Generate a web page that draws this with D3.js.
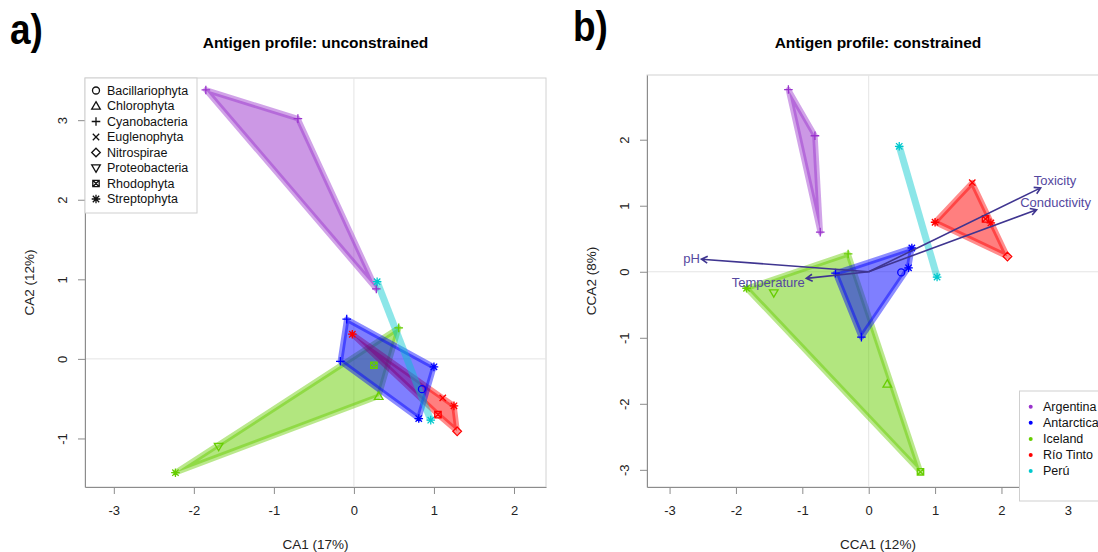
<!DOCTYPE html>
<html>
<head>
<meta charset="utf-8">
<script src="https://cdn.jsdelivr.net/npm/d3@7"></script>
<style>
  body { margin: 0; background: #fff; }
  svg { font-family: "Liberation Sans", Arial, sans-serif; }
</style>
</head>
<body>
<svg id="main-svg" width="1098" height="552"></svg>
<script>
// sites (colour groups) and taxa (symbols)
const sites = ["Argentina", "Antarctica", "Iceland", "Río Tinto", "Perú"];
const siteColors = ["#9932CC", "#0000FF", "#66CD00", "#FF0000", "#00C8CD"];
const hullOrder = ["Iceland", "Río Tinto", "Argentina", "Antarctica", "Perú"];
const taxa = ["Bacillariophyta", "Chlorophyta", "Cyanobacteria", "Euglenophyta",
  "Nitrospirae", "Proteobacteria", "Rhodophyta", "Streptophyta"];

// a) unconstrained CA scores
const caPoints = [
  {site: "Argentina", taxon: "Cyanobacteria", x: -1.85, y: 3.38},
  {site: "Argentina", taxon: "Cyanobacteria", x: -0.70, y: 3.02},
  {site: "Argentina", taxon: "Cyanobacteria", x: 0.28, y: 0.88},
  {site: "Antarctica", taxon: "Cyanobacteria", x: -0.09, y: 0.50},
  {site: "Antarctica", taxon: "Cyanobacteria", x: -0.17, y: -0.03},
  {site: "Antarctica", taxon: "Streptophyta", x: 1.00, y: -0.10},
  {site: "Antarctica", taxon: "Streptophyta", x: 0.81, y: -0.75},
  {site: "Antarctica", taxon: "Bacillariophyta", x: 0.85, y: -0.38},
  {site: "Iceland", taxon: "Cyanobacteria", x: 0.56, y: 0.39},
  {site: "Iceland", taxon: "Rhodophyta", x: 0.25, y: -0.08},
  {site: "Iceland", taxon: "Chlorophyta", x: 0.31, y: -0.47},
  {site: "Iceland", taxon: "Proteobacteria", x: -1.69, y: -1.10},
  {site: "Iceland", taxon: "Streptophyta", x: -2.23, y: -1.43},
  {site: "Río Tinto", taxon: "Streptophyta", x: -0.02, y: 0.31},
  {site: "Río Tinto", taxon: "Euglenophyta", x: 1.11, y: -0.49},
  {site: "Río Tinto", taxon: "Streptophyta", x: 1.25, y: -0.59},
  {site: "Río Tinto", taxon: "Rhodophyta", x: 1.05, y: -0.70},
  {site: "Río Tinto", taxon: "Nitrospirae", x: 1.29, y: -0.91},
  {site: "Perú", taxon: "Streptophyta", x: 0.29, y: 0.97},
  {site: "Perú", taxon: "Streptophyta", x: 0.96, y: -0.77}
];

// b) constrained CCA scores
const ccaPoints = [
  {site: "Argentina", taxon: "Cyanobacteria", x: -1.21, y: 2.76},
  {site: "Argentina", taxon: "Cyanobacteria", x: -0.81, y: 2.06},
  {site: "Argentina", taxon: "Cyanobacteria", x: -0.73, y: 0.60},
  {site: "Antarctica", taxon: "Cyanobacteria", x: -0.50, y: -0.02},
  {site: "Antarctica", taxon: "Cyanobacteria", x: -0.11, y: -0.99},
  {site: "Antarctica", taxon: "Streptophyta", x: 0.65, y: 0.36},
  {site: "Antarctica", taxon: "Streptophyta", x: 0.60, y: 0.06},
  {site: "Antarctica", taxon: "Bacillariophyta", x: 0.49, y: -0.01},
  {site: "Iceland", taxon: "Cyanobacteria", x: -0.31, y: 0.27},
  {site: "Iceland", taxon: "Streptophyta", x: -1.84, y: -0.25},
  {site: "Iceland", taxon: "Proteobacteria", x: -1.43, y: -0.32},
  {site: "Iceland", taxon: "Chlorophyta", x: 0.28, y: -1.70},
  {site: "Iceland", taxon: "Rhodophyta", x: 0.78, y: -3.03},
  {site: "Río Tinto", taxon: "Streptophyta", x: 1.00, y: 0.75},
  {site: "Río Tinto", taxon: "Euglenophyta", x: 1.56, y: 1.35},
  {site: "Río Tinto", taxon: "Rhodophyta", x: 1.76, y: 0.80},
  {site: "Río Tinto", taxon: "Streptophyta", x: 1.84, y: 0.74},
  {site: "Río Tinto", taxon: "Nitrospirae", x: 2.09, y: 0.23},
  {site: "Perú", taxon: "Streptophyta", x: 0.46, y: 1.90},
  {site: "Perú", taxon: "Streptophyta", x: 1.03, y: -0.08}
];

// environmental biplot arrows (CCA)
const envVars = ["pH", "Temperature", "Toxicity", "Conductivity"];
const envX = [-2.52, -0.94, 2.59, 2.53];
const envY = [0.19, -0.10, 1.27, 0.94];

// axis ticks / limits
const caTicksX = [-3, -2, -1, 0, 1, 2];
const caTicksY = [-1, 0, 1, 2, 3];
const ccaTicksX = [-3, -2, -1, 0, 1, 2, 3];
const ccaTicksY = [-3, -2, -1, 0, 1, 2];
const caLimX = [-3.36, 2.40], caLimY = [-1.61, 3.53];
const ccaLimX = [-3.34, 3.62], ccaLimY = [-3.26, 2.98];

let svg = d3.select('#main-svg');
let color = d3.scaleOrdinal().domain(sites).range(siteColors);
let fontFamily = '"Liberation Sans", Arial, sans-serif';

function symbolPath(taxon) {
  let s = 4.3, a = 3.2, r = 3.5;
  switch (taxon) {
    case "Bacillariophyta":
      return `M${-r},0A${r},${r} 0 1 0 ${r},0A${r},${r} 0 1 0 ${-r},0Z`;
    case "Chlorophyta":
      return `M0,${-s}L${s},${s * 0.72}L${-s},${s * 0.72}Z`;
    case "Cyanobacteria":
      return `M${-s},0H${s}M0,${-s}V${s}`;
    case "Euglenophyta":
      return `M${-a},${-a}L${a},${a}M${-a},${a}L${a},${-a}`;
    case "Nitrospirae":
      return `M0,${-s}L${s},0L0,${s}L${-s},0Z`;
    case "Proteobacteria":
      return `M0,${s}L${s},${-s * 0.72}L${-s},${-s * 0.72}Z`;
    case "Rhodophyta":
      return `M${-a},${-a}H${a}V${a}H${-a}Z M${-a},${-a}L${a},${a}M${-a},${a}L${a},${-a}`;
    default:
      return `M${-s},0H${s}M0,${-s}V${s}M${-a},${-a}L${a},${a}M${-a},${a}L${a},${-a}`;
  }
}

function drawPanel(settings) {
  let {left, right, top, bottom, limX, limY, ticksX, ticksY, points, title, tag, tagX, tagY, xLabel, yLabel} = settings;
  let x = d3.scaleLinear().domain(limX).range([left, right]);
  let y = d3.scaleLinear().domain(limY).range([bottom, top]);
  let g = svg.append('g');
  let cx = (left + right) / 2, cy = (top + bottom) / 2;

  let clipId = 'clip-' + tag.replace(')', '');
  g.append('clipPath').attr('id', clipId).append('rect')
    .attr('x', left).attr('y', top).attr('width', right - left).attr('height', bottom - top);

  g.append('text').attr('x', tagX).attr('y', tagY)
    .attr('transform', `translate(${tagX},0) scale(0.86,1) translate(${-tagX},0)`)
    .style('font-size', '43px').style('font-weight', 'bold').text(tag);
  g.append('text').attr('x', cx).attr('y', 48).attr('text-anchor', 'middle')
    .style('font-size', '15.5px').style('font-weight', 'bold').text(title);

  g.append('rect').attr('x', left).attr('y', top).attr('width', right - left).attr('height', bottom - top)
    .attr('fill', 'none').attr('stroke', '#d2d2d2');

  let inner = g.append('g').attr('clip-path', `url(#${clipId})`);
  inner.append('line').attr('x1', x(0)).attr('x2', x(0)).attr('y1', top).attr('y2', bottom)
    .attr('stroke', '#e4e4e4');
  inner.append('line').attr('x1', left).attr('x2', right).attr('y1', y(0)).attr('y2', y(0))
    .attr('stroke', '#e4e4e4');

  // hulls
  hullOrder.forEach(function (site) {
    let pts = points.filter(d => d.site === site).map(d => [x(d.x), y(d.y)]);
    let hull = pts.length > 2 ? d3.polygonHull(pts) : pts;
    inner.append('path')
      .attr('d', 'M' + hull.join('L') + (pts.length > 2 ? 'Z' : ''))
      .attr('fill', color(site)).attr('fill-opacity', pts.length > 2 ? 0.5 : 0)
      .attr('stroke', color(site)).attr('stroke-opacity', 0.45)
      .attr('stroke-width', pts.length > 2 ? 5.5 : 7)
      .attr('stroke-linejoin', 'round').attr('stroke-linecap', 'butt');
  });

  inner.selectAll('.pt').data(points).enter().append('path')
    .attr('class', 'pt')
    .attr('transform', d => `translate(${x(d.x)},${y(d.y)})`)
    .attr('d', d => symbolPath(d.taxon))
    .attr('fill', 'none').attr('stroke', d => color(d.site)).attr('stroke-width', 1.3);

  // axes (plain hyphen minus like R)
  let fmt = d => String(d);
  let xAxis = g.append('g').attr('transform', `translate(0,${bottom})`)
    .call(d3.axisBottom(x).tickValues(ticksX).tickFormat(fmt).tickSize(7).tickSizeOuter(0).tickPadding(12));
  let yAxis = g.append('g').attr('transform', `translate(${left},0)`)
    .call(d3.axisLeft(y).tickValues(ticksY).tickFormat(fmt).tickSize(7).tickSizeOuter(0));
  [xAxis, yAxis].forEach(function (ax) {
    ax.select('.domain').attr('stroke', '#8c8c8c');
    ax.selectAll('.tick line').attr('stroke', '#8c8c8c');
    ax.selectAll('text').style('font-size', '13px').style('font-family', fontFamily)
      .attr('fill', '#222');
  });
  yAxis.selectAll('text').attr('x', 0).attr('dy', 0).attr('text-anchor', 'middle')
    .attr('transform', 'translate(-18,0) rotate(-90)');

  g.append('text').attr('x', cx).attr('y', 549).attr('text-anchor', 'middle')
    .style('font-size', '13.5px').attr('fill', '#222').text(xLabel);
  g.append('text').attr('transform', `translate(${left - 51},${cy}) rotate(-90)`)
    .attr('text-anchor', 'middle').style('font-size', '13.5px').attr('fill', '#222').text(yLabel);

  return {x: x, y: y, g: g, inner: inner};
}

// panel a
let panelA = drawPanel({
  left: 85, right: 546, top: 78, bottom: 487,
  limX: caLimX, limY: caLimY, ticksX: caTicksX, ticksY: caTicksY, points: caPoints,
  title: "Antigen profile: unconstrained", tag: "a)", tagX: 10, tagY: 44,
  xLabel: "CA1 (17%)", yLabel: "CA2 (12%)"
});

// legend of taxa
let legA = panelA.g.append('g');
legA.append('rect').attr('x', 85).attr('y', 78).attr('width', 112).attr('height', 135)
  .attr('fill', '#fff').attr('stroke', '#cfcfcf');
taxa.forEach(function (t, i) {
  let ly = 90.5 + i * 15.5;
  legA.append('path').attr('transform', `translate(96,${ly})`).attr('d', symbolPath(t))
    .attr('fill', 'none').attr('stroke', '#111').attr('stroke-width', 1.3);
  legA.append('text').attr('x', 107).attr('y', ly).attr('dy', '0.35em')
    .style('font-size', '12.5px').attr('fill', '#111').text(t);
});

// panel b
let panelB = drawPanel({
  left: 647, right: 1109, top: 75, bottom: 487,
  limX: ccaLimX, limY: ccaLimY, ticksX: ccaTicksX, ticksY: ccaTicksY, points: ccaPoints,
  title: "Antigen profile: constrained", tag: "b)", tagX: 573, tagY: 41.5,
  xLabel: "CCA1 (12%)", yLabel: "CCA2 (8%)"
});

// environmental arrows
let arrowColor = "#3f3590";
let ox = panelB.x(0), oy = panelB.y(0);
envVars.forEach(function (v, i) {
  let tx = panelB.x(envX[i]), ty = panelB.y(envY[i]);
  let dx = tx - ox, dy = ty - oy, len = Math.hypot(dx, dy);
  let ux = dx / len, uy = dy / len;
  let hl = 7, ang = Math.PI / 6;
  let h1 = [tx - hl * (ux * Math.cos(ang) - uy * Math.sin(ang)), ty - hl * (uy * Math.cos(ang) + ux * Math.sin(ang))];
  let h2 = [tx - hl * (ux * Math.cos(ang) + uy * Math.sin(ang)), ty - hl * (uy * Math.cos(ang) - ux * Math.sin(ang))];
  panelB.g.append('path')
    .attr('d', `M${ox},${oy}L${tx},${ty}M${h1[0]},${h1[1]}L${tx},${ty}L${h2[0]},${h2[1]}`)
    .attr('fill', 'none').attr('stroke', arrowColor).attr('stroke-width', 1.6);
  let label = panelB.g.append('text').attr('text-anchor', 'middle').attr('dy', '0.35em')
    .style('font-size', '13px').attr('fill', '#5548a0').text(v);
  let w = label.node().getComputedTextLength() / 2 + 1.5, h = 7;
  let shift = Math.min(w / Math.max(Math.abs(ux), 1e-6), h / Math.max(Math.abs(uy), 1e-6));
  label.attr('x', tx + ux * shift).attr('y', ty + uy * shift);
});

// legend of sites
let legB = panelB.g.append('g');
legB.append('rect').attr('x', 1019.5).attr('y', 391).attr('width', 120).attr('height', 110)
  .attr('fill', '#fff').attr('stroke', '#cfcfcf');
sites.forEach(function (s, i) {
  let ly = 406.7 + i * 16.1;
  legB.append('circle').attr('cx', 1030.7).attr('cy', ly).attr('r', 2).attr('fill', color(s));
  legB.append('text').attr('x', 1043).attr('y', ly).attr('dy', '0.35em')
    .style('font-size', '12.5px').attr('fill', '#111').text(s);
});
</script>
</body>
</html>
